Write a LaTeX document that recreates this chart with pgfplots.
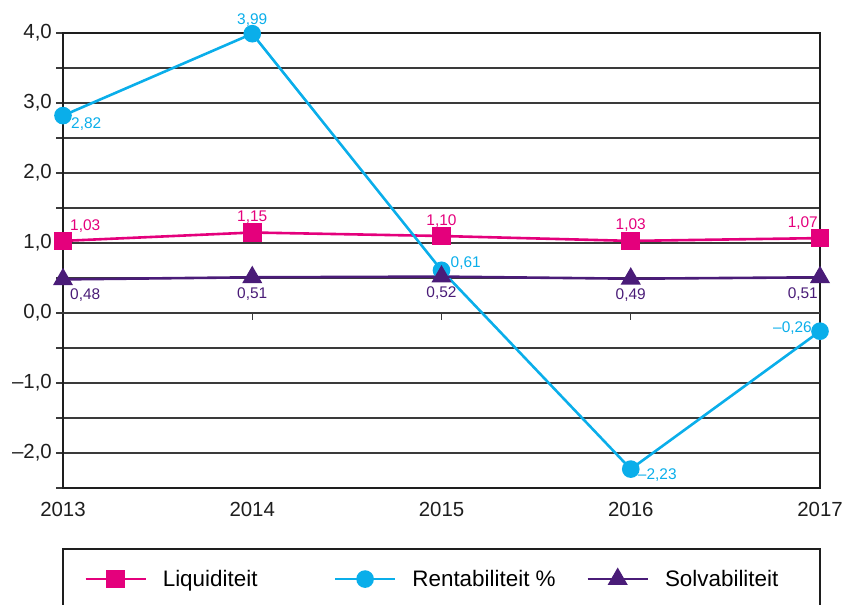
\documentclass[border=0pt]{standalone}
\usepackage{fontspec}
\setmainfont{Liberation Sans}
\usepackage{pgfplots}
\pgfplotsset{compat=1.18}
\definecolor{liq}{HTML}{E4007C}
\definecolor{ren}{HTML}{0AAEEA}
\definecolor{sol}{HTML}{4A1C78}
\definecolor{gridc}{HTML}{3A3A3A}
\definecolor{framec}{HTML}{1E1E1E}

\pgfplotsset{
  lab/.style n args={4}{
    forget plot, draw=none, mark=none,
    point meta=explicit symbolic,
    nodes near coords,
    every node near coord/.append style={font=\fontsize{15.5}{18}\selectfont, text=#1, inner sep=0pt, anchor=#2, xshift=#3bp, yshift=#4bp},
  },
}

\begin{document}
\begin{tikzpicture}
\begin{axis}[
  scale only axis,
  width=757bp, height=455bp,
  xmin=2013, xmax=2017,
  ymin=-2.5, ymax=4,
  clip=false,
  axis line style={line width=2.6bp, framec},
  xtick={2013,2014,2015,2016,2017},
  xticklabels={2013,2014,2015,2016,2017},
  xtick style={draw=none},
  xticklabel style={font=\fontsize{20.5}{24}\selectfont, color=framec, inner sep=0pt, anchor=north, yshift=-7bp},
  ytick={-2,-1,0,1,2,3,4},
  yticklabels={{–2,0},{–1,0},{0,0},{1,0},{2,0},{3,0},{4,0}},
  minor ytick={-2.5,-1.5,-0.5,0.5,1.5,2.5,3.5},
  ytick pos=left,
  tick align=outside,
  major tick length=7bp,
  minor tick length=7bp,
  ytick style={line width=1.3bp, gridc},
  minor tick style={line width=1.3bp, gridc},
  yticklabel style={font=\fontsize{20.5}{24}\selectfont, color=framec, inner sep=0pt, anchor=east, xshift=-4bp},
  ymajorgrids, yminorgrids,
  major grid style={line width=1.3bp, gridc},
  minor grid style={line width=1.3bp, gridc},
  extra y ticks={0},
  extra y tick labels={},
  extra y tick style={grid style={line width=2.4bp, framec}},
  legend columns=3,
  legend style={draw=none, fill=none, at={(0,0)}, anchor=west, xshift=21bp, yshift=-91bp,
    font=\fontsize{22.5}{26}\selectfont, inner sep=0pt,
    /tikz/every odd column/.append style={column sep=16bp},
    /tikz/every even column/.append style={column sep=10bp},
    nodes={inner sep=0pt}},
  legend image code/.code={
    \draw[#1, mark=none] (0bp,0bp) -- (60bp,0bp);
    \draw[#1, only marks] plot coordinates {(30bp,0bp)};
  },
]
% Liquiditeit
\addplot[liq, line width=2.6bp, mark=square*, mark size=8bp, mark options={solid}]
  coordinates {(2013,1.03) (2014,1.15) (2015,1.10) (2016,1.03) (2017,1.07)};
\addlegendentry{\makebox[161bp][l]{Liquiditeit}}
% Rentabiliteit
\addplot[ren, line width=2.6bp, mark=*, mark size=7.5bp, mark options={solid}]
  coordinates {(2013,2.82) (2014,3.99) (2015,0.61) (2016,-2.23) (2017,-0.26)};
\addlegendentry{\makebox[164bp][l]{Rentabiliteit \%}}
% Solvabiliteit
\addplot[sol, line width=2.6bp, mark=triangle*, mark size=9bp, mark options={solid}]
  coordinates {(2013,0.48) (2014,0.51) (2015,0.52) (2016,0.49) (2017,0.51)};
\addlegendentry{\makebox[166bp][l]{Solvabiliteit}}
% value labels
\addplot[lab={liq}{base west}{7}{10.5}] coordinates {(2013,1.03) [1,03]};
\addplot[lab={liq}{base}{0}{11}] coordinates {(2014,1.15) [1,15] (2015,1.10) [1,10] (2016,1.03) [1,03]};
\addplot[lab={liq}{base east}{-2}{11}] coordinates {(2017,1.07) [1,07]};
\addplot[lab={ren}{north west}{8}{-2}] coordinates {(2013,2.82) [2,82]};
\addplot[lab={ren}{base}{0}{9}] coordinates {(2014,3.99) [3,99]};
\addplot[lab={ren}{base west}{9}{3}] coordinates {(2015,0.61) [0,61]};
\addplot[lab={ren}{north west}{7}{1}] coordinates {(2016,-2.23) [–2,23]};
\addplot[lab={ren}{base east}{-8}{-1}] coordinates {(2017,-0.26) [–0,26]};
\addplot[lab={sol}{north west}{7}{-9}] coordinates {(2013,0.48) [0,48]};
\addplot[lab={sol}{north}{0}{-10}] coordinates {(2014,0.51) [0,51] (2015,0.52) [0,52] (2016,0.49) [0,49]};
\addplot[lab={sol}{north east}{-2}{-10}] coordinates {(2017,0.51) [0,51]};
\draw[line width=1.3bp, gridc] (axis cs:2014,0) -- ++(0bp,-7bp);
\draw[line width=1.3bp, gridc] (axis cs:2015,0) -- ++(0bp,-7bp);
\draw[line width=1.3bp, gridc] (axis cs:2016,0) -- ++(0bp,-7bp);
\coordinate (SW) at (rel axis cs:0,0);
\coordinate (NE) at (rel axis cs:1,1);
\end{axis}
\draw[line width=2bp, framec] ([yshift=-61bp]SW) rectangle ([yshift=-200bp]SW -| NE);
\pgfresetboundingbox
\path[use as bounding box] ([xshift=-63bp,yshift=-116bp]SW) rectangle ([xshift=24bp,yshift=33bp]NE);
\end{tikzpicture}
\end{document}
